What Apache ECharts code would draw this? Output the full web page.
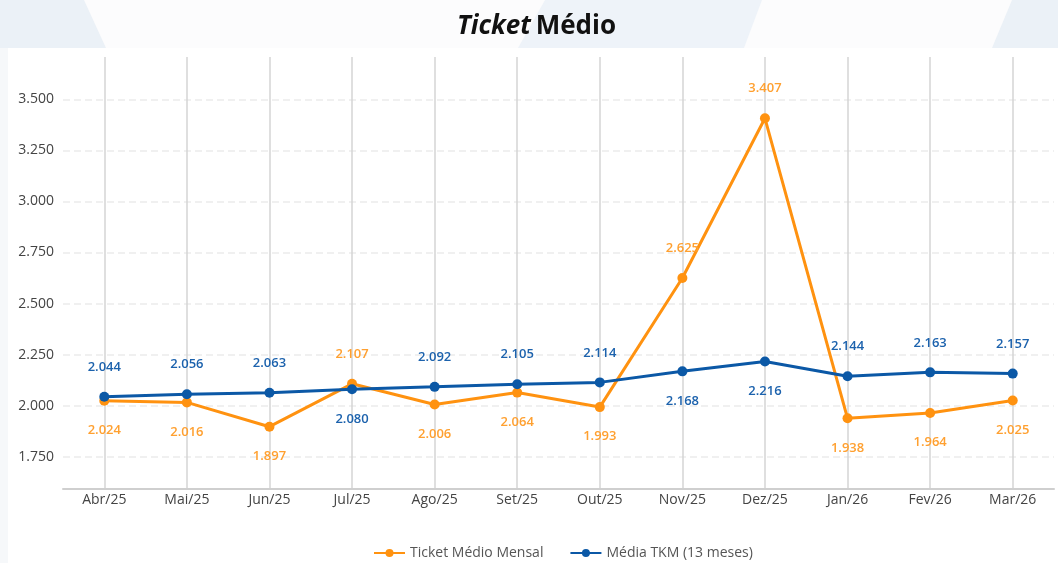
<!DOCTYPE html>
<html>
<head>
<meta charset="utf-8">
<script src="https://cdn.jsdelivr.net/npm/echarts@6/dist/echarts.min.js"></script>
<style>
  html, body { margin: 0; padding: 0; background: #ffffff; }
  #chart { width: 1058px; height: 563px; }
</style>
</head>
<body>
<div id="chart"></div>
<script>
// dados do gráfico
let meses = ['Abr/25', 'Mai/25', 'Jun/25', 'Jul/25', 'Ago/25', 'Set/25', 'Out/25', 'Nov/25', 'Dez/25', 'Jan/26', 'Fev/26', 'Mar/26'];
let ticketMensal = [2024, 2016, 1897, 2107, 2006, 2064, 1993, 2625, 3407, 1938, 1964, 2025];
let mediaTkm = [2044, 2056, 2063, 2080, 2092, 2105, 2114, 2168, 2216, 2144, 2163, 2157];
let yTicks = [1750, 2000, 2250, 2500, 2750, 3000, 3250, 3500];

let corLaranja = '#ff9210';
let corAzul = '#0b58a6';
let font = "'Open Sans', 'Noto Sans', sans-serif";

function fmt(v) {
    return String(v).replace(/\B(?=(\d{3})+(?!\d))/g, '.');
}

// rótulo acima para a série mais alta, abaixo para a outra
function montaDados(valores, outros) {
    return valores.map(function (v, i) {
        return {
            value: v,
            label: { position: v >= outros[i] ? 'top' : 'bottom' }
        };
    });
}

let chart = echarts.init(document.getElementById('chart'));
let option = {
    backgroundColor: '#f6f8fa',
    animation: false,
    textStyle: { fontFamily: font },
    graphic: [
        { type: 'rect', z: -10, shape: { x: 0, y: 0, width: 1058, height: 48 }, style: { fill: '#fcfcfd' } },
        { type: 'polygon', z: -9, shape: { points: [[0, 0], [84, 0], [106, 48], [0, 48]] }, style: { fill: '#ebf1f7' } },
        { type: 'polygon', z: -9, shape: { points: [[545, 0], [762, 0], [744, 48], [518, 48]] }, style: { fill: '#eef3f9' } },
        { type: 'polygon', z: -9, shape: { points: [[1012, 0], [1058, 0], [1058, 48], [992, 48]] }, style: { fill: '#ebf1f7' } },
        { type: 'rect', z: -8, shape: { x: 8, y: 48, width: 1050, height: 515 }, style: { fill: '#ffffff' } }
    ],
    title: {
        text: '{i|Ticket} {b|Médio}',
        left: 452,
        top: 9,
        textStyle: {
            rich: {
                i: { fontFamily: font, fontSize: 26, fontWeight: 'bold', fontStyle: 'italic', color: '#111' },
                b: { fontFamily: font, fontSize: 26, fontWeight: 'bold', color: '#111' }
            }
        }
    },
    legend: {
        left: 368,
        top: 541,
        itemWidth: 31,
        itemHeight: 10,
        itemGap: 26,
        textStyle: { fontFamily: font, fontSize: 14, color: '#555' },
        data: ['Ticket Médio Mensal', 'Média TKM (13 meses)']
    },
    grid: {
        left: 63,
        right: 4,
        top: 57,
        bottom: 74
    },
    xAxis: {
        type: 'category',
        data: meses,
        boundaryGap: true,
        axisLine: { lineStyle: { color: '#cfcfcf', width: 2 } },
        axisTick: { show: false },
        axisLabel: { color: '#444', fontSize: 14, margin: 4, fontFamily: font },
        splitLine: { show: true, alignWithLabel: true, lineStyle: { color: '#d4d4d4', width: 1.5 } }
    },
    yAxis: {
        type: 'value',
        min: 1592,
        max: 3707,
        axisLine: { show: false },
        axisTick: { show: false, customValues: yTicks },
        axisLabel: {
            customValues: yTicks,
            color: '#444',
            fontSize: 14,
            margin: 9,
            fontFamily: font,
            formatter: function (v) { return fmt(v); }
        },
        splitLine: { show: true, lineStyle: { color: '#ececec', type: [7, 4], width: 1.5 } }
    },
    series: [
        {
            name: 'Ticket Médio Mensal',
            type: 'line',
            data: montaDados(ticketMensal, mediaTkm),
            symbol: 'circle',
            symbolSize: 10,
            lineStyle: { color: corLaranja, width: 3 },
            itemStyle: { color: corLaranja },
            label: {
                show: true,
                distance: 18,
                color: '#ffa030',
                fontSize: 13,
                fontWeight: 600,
                fontFamily: font,
                formatter: function (p) { return fmt(p.value); }
            },
            z: 3
        },
        {
            name: 'Média TKM (13 meses)',
            type: 'line',
            data: montaDados(mediaTkm, ticketMensal),
            symbol: 'circle',
            symbolSize: 10,
            lineStyle: { color: corAzul, width: 3 },
            itemStyle: { color: corAzul },
            label: {
                show: true,
                distance: 18,
                color: '#1c62ad',
                fontSize: 13,
                fontWeight: 600,
                fontFamily: font,
                formatter: function (p) { return fmt(p.value); }
            },
            z: 4
        }
    ]
};
chart.setOption(option);
</script>
</body>
</html>
